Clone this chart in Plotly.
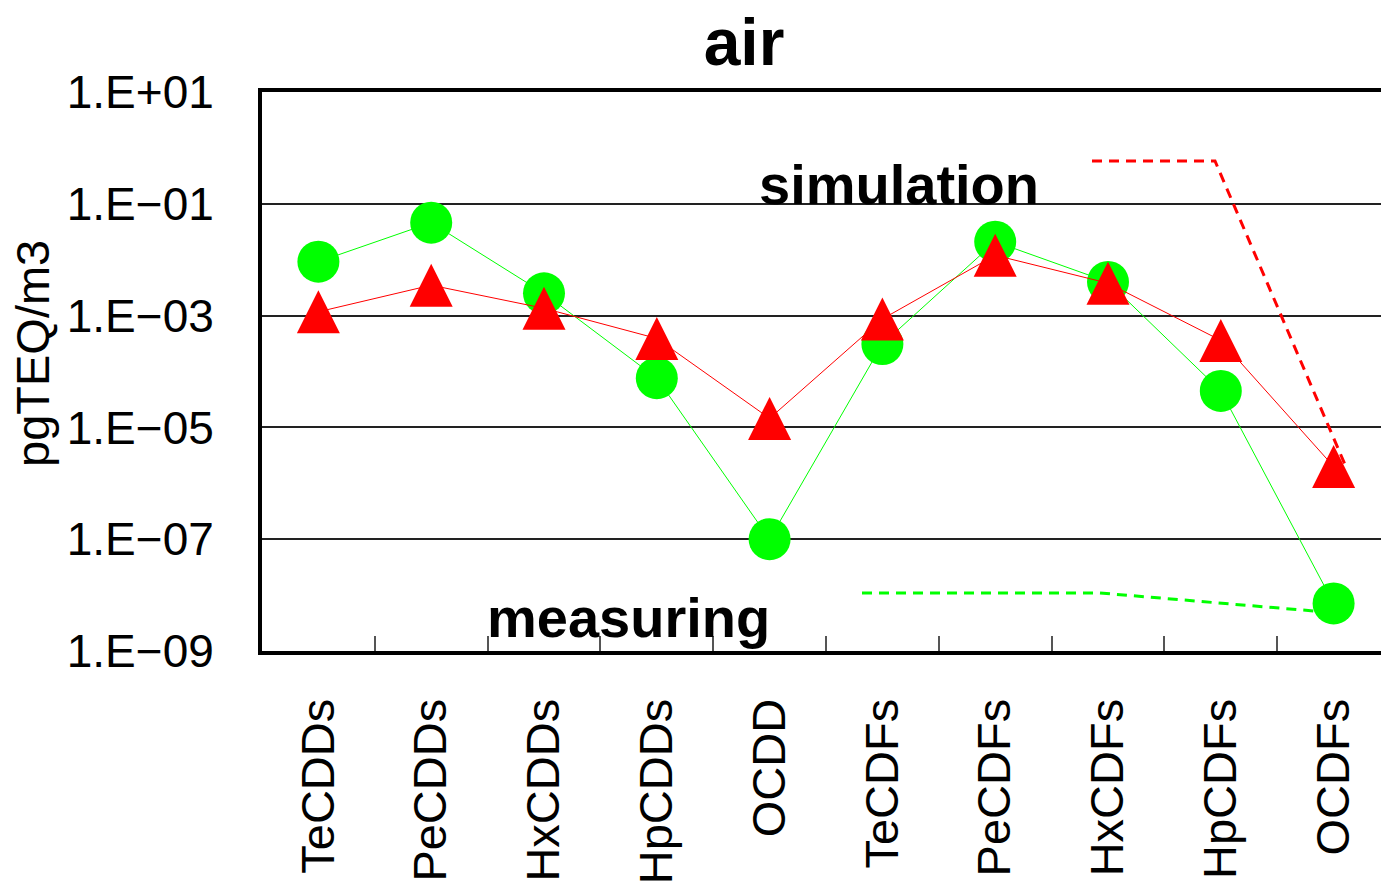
import plotly.graph_objects as go

categories = ["TeCDDs", "PeCDDs", "HxCDDs", "HpCDDs", "OCDD",
              "TeCDFs", "PeCDFs", "HxCDFs", "HpCDFs", "OCDFs"]
measuring = [9.2e-3, 4.6e-2, 2.5e-3, 7.6e-5, 1.0e-7,
             3.1e-4, 2.1e-2, 4.0e-3, 4.5e-5, 7.1e-9]
simulation = [1.17e-3, 3.5e-3, 1.35e-3, 3.9e-4, 1.45e-5,
              8.7e-4, 1.2e-2, 3.8e-3, 3.6e-4, 2.0e-6]
ytick_vals = [1e1, 1e-1, 1e-3, 1e-5, 1e-7, 1e-9]
ytick_text = ["1.E+01", "1.E\u221201", "1.E\u221203", "1.E\u221205", "1.E\u221207", "1.E\u221209"]

FONT = "Liberation Sans"
W, H = 1381, 889
L, T, B = 262, 92, 238
PW = W - L
PH = H - T - B

def px(x):
    return (x - L) / PW

def py(y):
    return (H - B - y) / PH

fig = go.Figure()
fig.add_trace(go.Scatter(
    x=categories, y=measuring, mode="lines+markers", name="measuring",
    line=dict(color="#00ff00", width=1, backoff=0),
    marker=dict(symbol="circle", size=42, color="#00ff00"),
    showlegend=False,
))
fig.add_trace(go.Scatter(
    x=categories, y=simulation, mode="lines+markers", name="simulation",
    line=dict(color="#ff0000", width=1, backoff=0),
    marker=dict(symbol="arrow-down", angle=180, standoff=21.5, size=43, color="#ff0000"),
    showlegend=False,
))

# leader lines for labels
fig.add_shape(type="path", xref="paper", yref="paper",
              path=f"M{px(1092)},{py(161)} L{px(1215)},{py(161)} L{px(1346)},{py(467)}",
              line=dict(color="#ff0000", width=3, dash="10px,7px"))
fig.add_shape(type="path", xref="paper", yref="paper",
              path=f"M{px(862)},{py(593)} L{px(1100)},{py(593)} L{px(1338)},{py(613)}",
              line=dict(color="#00ff00", width=3, dash="10px,7px"), layer="below")

fig.add_annotation(text="<b>simulation</b>", xref="paper", yref="paper",
                   x=px(899), y=py(184), xanchor="center", yanchor="middle", showarrow=False,
                   font=dict(family=FONT, size=56, color="black"))
fig.add_annotation(text="<b>measuring</b>", xref="paper", yref="paper",
                   x=px(628), y=py(617), xanchor="center", yanchor="middle", showarrow=False,
                   font=dict(family=FONT, size=56, color="black"))
fig.add_annotation(text="pgTEQ/m3", xref="paper", yref="paper",
                   x=px(32), y=py(354), xanchor="center", yanchor="middle", showarrow=False,
                   textangle=-90, font=dict(family=FONT, size=47, color="black"))

fig.update_layout(
    width=W, height=H,
    margin=dict(l=L, r=0, t=T, b=B, autoexpand=False),
    paper_bgcolor="white", plot_bgcolor="white",
    title=dict(text="<b>air</b>", x=744 / W, xref="container", xanchor="center",
               y=1 - 42 / H, yref="container", yanchor="middle",
               font=dict(family=FONT, size=66, color="black")),
    font=dict(family=FONT, color="black"),
)
fig.update_xaxes(
    type="category", range=[-0.5, -0.5 + PW / 112.8],
    showline=True, linecolor="black", linewidth=4, mirror=True,
    ticks="inside", tickson="boundaries", ticklen=15, tickwidth=1.5, tickcolor="#555",
    tickangle=-90, tickfont=dict(family=FONT, size=47, color="black"),
    ticklabelstandoff=25, showgrid=False, zeroline=False,
)
fig.update_yaxes(
    type="log", range=[-9, 1], tickvals=ytick_vals, ticktext=ytick_text,
    tickfont=dict(family=FONT, size=46, color="black"), ticklabelstandoff=35,
    showline=True, linecolor="black", linewidth=4, mirror=False,
    showgrid=True, gridcolor="#222", gridwidth=1.5, ticks="", zeroline=False,
)

fig.write_html("out.html")
